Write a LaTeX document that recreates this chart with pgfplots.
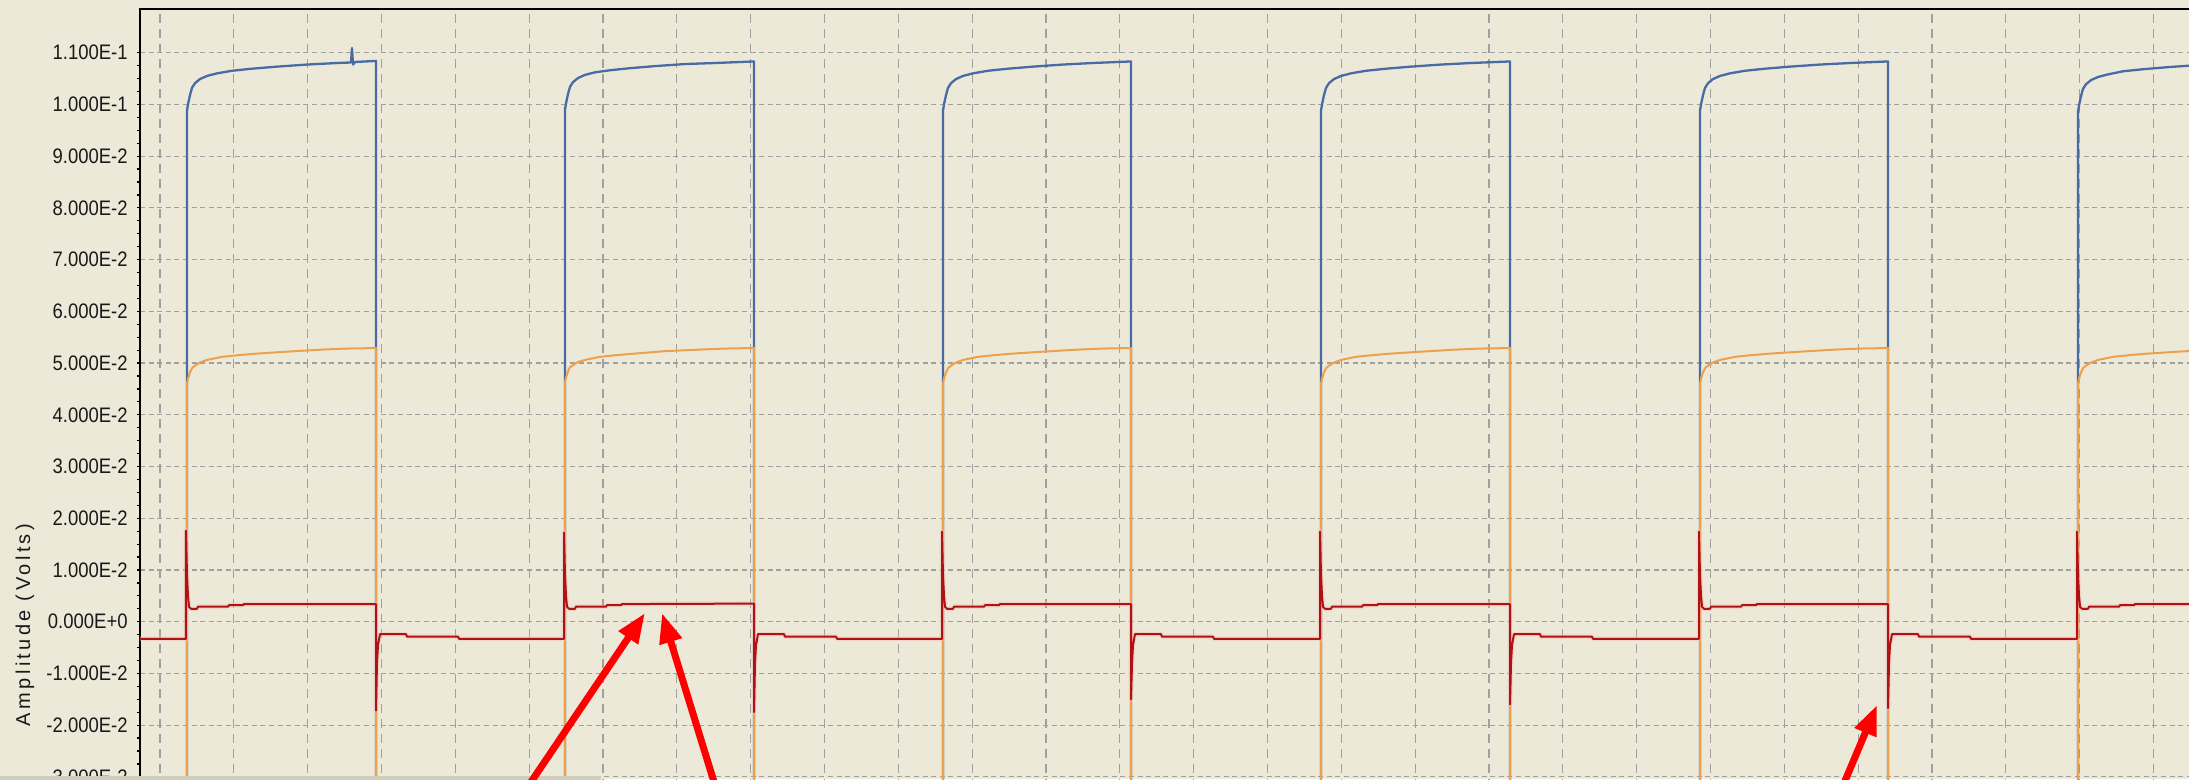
\documentclass[border=0pt]{standalone}
\usepackage{fontspec}
\setmainfont{Liberation Sans}
\newfontfamily\tickfont[FakeStretch=0.88]{Liberation Sans}
\newfontfamily\labfont[LetterSpace=17]{Liberation Sans}
\usepackage{pgfplots}
\pgfplotsset{compat=1.18}
\usetikzlibrary{arrows.meta,backgrounds}
\definecolor{bg}{RGB}{236,233,216}
\definecolor{gridc}{RGB}{160,160,160}
\definecolor{sigblue}{RGB}{72,106,165}
\definecolor{sigorange}{RGB}{238,160,75}
\definecolor{sigred}{RGB}{175,18,18}
\definecolor{glow}{RGB}{245,195,190}
\definecolor{arrowred}{RGB}{255,0,0}
\begin{document}
\begin{tikzpicture}
\begin{axis}[
  x=0.5pt, y=2586.5pt,
  xmin=140, xmax=2300, ymin=-0.035, ymax=0.11844,
  clip=false,
  axis line style={black, line width=1pt},
  xtick={160,233.8,307.7,381.5,455.3,529.2,603,676.8,750.6,824.5,898.3,972.1,1046,1119.8,1193.6,1267.5,1341.3,1415.1,1489,1562.8,1636.6,1710.5,1784.3,1858.1,1932,2005.8,2079.6,2153.5},
  xticklabels={},
  xtick style={draw=none},
  ytick={-0.03,-0.02,-0.01,0,0.01,0.02,0.03,0.04,0.05,0.06,0.07,0.08,0.09,0.1,0.11},
  yticklabels={\mbox{-3.000E-2},\mbox{-2.000E-2},\mbox{-1.000E-2},\mbox{0.000E+0},\mbox{1.000E-2},\mbox{2.000E-2},\mbox{3.000E-2},\mbox{4.000E-2},\mbox{5.000E-2},\mbox{6.000E-2},\mbox{7.000E-2},\mbox{8.000E-2},\mbox{9.000E-2},\mbox{1.000E-1},\mbox{1.100E-1}},
  ytick pos=left,
  tick align=outside,
  minor y tick num=3,
  major tick length=1.5pt,
  minor tick length=1.5pt,
  ytick style={black, line width=0.6pt},
  yticklabel style={font=\tickfont\fontsize{10.5pt}{12pt}\selectfont, text=black!90, anchor=east, inner sep=0pt, xshift=-4.5pt},
  xmajorgrids, ymajorgrids,
  x grid style={gridc, line width=0.6pt, dash pattern=on 4.5pt off 3pt},
  y grid style={gridc, line width=0.6pt, dash pattern=on 2.5pt off 1.8pt},
]
\coordinate (bl) at (axis cs:0,-0.03041);
\coordinate (tr) at (axis cs:2189,0.12018);
% blue
\addplot[sigblue, line width=1.15pt, line join=round] coordinates {
(140,-0.06)
(187,-0.06)(187,0.0988)(188,0.1000)(190,0.1018)(192,0.1032)(195,0.1041)(200,0.1049)(207,0.1055)(217,0.1060)(232,0.1065)(252,0.1069)(277,0.1073)(307,0.1077)(337,0.1080)(351,0.1081)(352,0.1109)(353,0.1077)(355,0.1082)(376,0.1084)(376,-0.06)
(565,-0.06)(565,0.0990)(566,0.1002)(568,0.1020)(570,0.1034)(573,0.1043)(578,0.1051)(585,0.1057)(595,0.1062)(610,0.1066)(630,0.1070)(655,0.1074)(685,0.1078)(715,0.1080)(754,0.1083)(754,-0.06)
(943,-0.06)(943,0.0988)(944,0.1000)(946,0.1018)(948,0.1032)(951,0.1041)(956,0.1049)(963,0.1055)(973,0.1060)(988,0.1065)(1008,0.1069)(1033,0.1073)(1063,0.1077)(1093,0.1080)(1131,0.1083)(1131,-0.06)
(1321,-0.06)(1321,0.0988)(1322,0.1000)(1324,0.1018)(1326,0.1032)(1329,0.1041)(1334,0.1049)(1341,0.1055)(1351,0.1060)(1366,0.1065)(1386,0.1069)(1411,0.1073)(1441,0.1077)(1471,0.1080)(1510,0.1083)(1510,-0.06)
(1700,-0.06)(1700,0.0988)(1701,0.1000)(1703,0.1018)(1705,0.1032)(1708,0.1041)(1713,0.1049)(1720,0.1055)(1730,0.1060)(1745,0.1065)(1765,0.1069)(1790,0.1073)(1820,0.1077)(1850,0.1080)(1888,0.1083)(1888,-0.06)
(2078,-0.06)(2078,0.0985)(2079,0.0998)(2081,0.1016)(2083,0.1030)(2086,0.1039)(2091,0.1047)(2098,0.1053)(2108,0.1058)(2123,0.1064)(2143,0.1068)(2168,0.1072)(2198,0.1076)
};
% orange
\addplot[sigorange, line width=1pt, line join=round] coordinates {
(140,-0.06)
(187,-0.06)(187,0.0460)(188,0.0470)(190,0.0482)(192,0.0490)(195,0.0495)(200,0.0501)(207,0.0506)(222,0.0512)(237,0.0515)(255,0.0518)(287,0.0522)(322,0.0526)(347,0.0528)(376,0.0529)(376,-0.06)
(565,-0.06)(565,0.0462)(566,0.0472)(568,0.0484)(570,0.0492)(573,0.0496)(578,0.0502)(585,0.0506)(600,0.0512)(615,0.0515)(633,0.0518)(665,0.0523)(700,0.0526)(725,0.0528)(754,0.0529)(754,-0.06)
(943,-0.06)(943,0.0460)(944,0.0470)(946,0.0482)(948,0.0490)(951,0.0495)(956,0.0501)(963,0.0506)(978,0.0512)(993,0.0515)(1011,0.0518)(1043,0.0522)(1078,0.0526)(1103,0.0528)(1131,0.0529)(1131,-0.06)
(1321,-0.06)(1321,0.0460)(1322,0.0470)(1324,0.0482)(1326,0.0490)(1329,0.0495)(1334,0.0501)(1341,0.0506)(1356,0.0512)(1371,0.0515)(1389,0.0518)(1421,0.0522)(1456,0.0526)(1481,0.0528)(1510,0.0529)(1510,-0.06)
(1700,-0.06)(1700,0.0460)(1701,0.0470)(1703,0.0482)(1705,0.0490)(1708,0.0495)(1713,0.0501)(1720,0.0506)(1735,0.0512)(1750,0.0515)(1768,0.0518)(1800,0.0522)(1835,0.0526)(1860,0.0528)(1888,0.0529)(1888,-0.06)
(2078,-0.06)(2078,0.0460)(2079,0.0470)(2081,0.0482)(2083,0.0490)(2086,0.0495)(2091,0.0501)(2098,0.0506)(2113,0.0512)(2128,0.0515)(2146,0.0518)(2178,0.0522)(2213,0.0526)
};
% red (glow, then trace)
\addplot[glow, line width=2.4pt, opacity=0.5, line join=round, forget plot] coordinates {
(140,-0.0033)(186,-0.0033)(186,0.0176)(187,0.0090)(188,0.0050)(189,0.0029)(191,0.0025)(197,0.0025)(198,0.0029)(228,0.0029)(229,0.0032)(243,0.0032)(244,0.0034)(376,0.0034)(376,-0.0172)(377,-0.0080)(378,-0.0045)(380,-0.0024)(406,-0.0024)(407,-0.0029)(458,-0.0029)(459,-0.0033)
(564,-0.0033)(564,0.0172)(565,0.0090)(566,0.0050)(567,0.0029)(569,0.0025)(575,0.0025)(576,0.0029)(606,0.0029)(607,0.0032)(621,0.0032)(622,0.0034)(754,0.0035)(754,-0.0175)(755,-0.0080)(756,-0.0045)(758,-0.0024)(784,-0.0024)(785,-0.0029)(836,-0.0029)(837,-0.0033)
(942,-0.0033)(942,0.0174)(943,0.0090)(944,0.0050)(945,0.0029)(947,0.0025)(953,0.0025)(954,0.0029)(984,0.0029)(985,0.0032)(999,0.0032)(1000,0.0034)(1131,0.0034)(1131,-0.0150)(1132,-0.0080)(1133,-0.0045)(1135,-0.0024)(1161,-0.0024)(1162,-0.0029)(1213,-0.0029)(1214,-0.0033)
(1320,-0.0033)(1320,0.0174)(1321,0.0090)(1322,0.0050)(1323,0.0029)(1325,0.0025)(1331,0.0025)(1332,0.0029)(1362,0.0029)(1363,0.0032)(1377,0.0032)(1378,0.0034)(1510,0.0034)(1510,-0.0160)(1511,-0.0080)(1512,-0.0045)(1514,-0.0024)(1540,-0.0024)(1541,-0.0029)(1592,-0.0029)(1593,-0.0033)
(1699,-0.0033)(1699,0.0174)(1700,0.0090)(1701,0.0050)(1702,0.0029)(1704,0.0025)(1710,0.0025)(1711,0.0029)(1741,0.0029)(1742,0.0032)(1756,0.0032)(1757,0.0034)(1888,0.0034)(1888,-0.0167)(1889,-0.0080)(1890,-0.0045)(1892,-0.0024)(1918,-0.0024)(1919,-0.0029)(1970,-0.0029)(1971,-0.0033)
(2077,-0.0033)(2077,0.0174)(2078,0.0090)(2079,0.0050)(2080,0.0029)(2082,0.0025)(2088,0.0025)(2089,0.0029)(2119,0.0029)(2120,0.0032)(2134,0.0032)(2135,0.0034)(2200,0.0034)
};
\addplot[sigred, line width=1pt, line join=round] coordinates {
(140,-0.0033)(186,-0.0033)(186,0.0176)(187,0.0090)(188,0.0050)(189,0.0029)(191,0.0025)(197,0.0025)(198,0.0029)(228,0.0029)(229,0.0032)(243,0.0032)(244,0.0034)(376,0.0034)(376,-0.0172)(377,-0.0080)(378,-0.0045)(380,-0.0024)(406,-0.0024)(407,-0.0029)(458,-0.0029)(459,-0.0033)
(564,-0.0033)(564,0.0172)(565,0.0090)(566,0.0050)(567,0.0029)(569,0.0025)(575,0.0025)(576,0.0029)(606,0.0029)(607,0.0032)(621,0.0032)(622,0.0034)(754,0.0035)(754,-0.0175)(755,-0.0080)(756,-0.0045)(758,-0.0024)(784,-0.0024)(785,-0.0029)(836,-0.0029)(837,-0.0033)
(942,-0.0033)(942,0.0174)(943,0.0090)(944,0.0050)(945,0.0029)(947,0.0025)(953,0.0025)(954,0.0029)(984,0.0029)(985,0.0032)(999,0.0032)(1000,0.0034)(1131,0.0034)(1131,-0.0150)(1132,-0.0080)(1133,-0.0045)(1135,-0.0024)(1161,-0.0024)(1162,-0.0029)(1213,-0.0029)(1214,-0.0033)
(1320,-0.0033)(1320,0.0174)(1321,0.0090)(1322,0.0050)(1323,0.0029)(1325,0.0025)(1331,0.0025)(1332,0.0029)(1362,0.0029)(1363,0.0032)(1377,0.0032)(1378,0.0034)(1510,0.0034)(1510,-0.0160)(1511,-0.0080)(1512,-0.0045)(1514,-0.0024)(1540,-0.0024)(1541,-0.0029)(1592,-0.0029)(1593,-0.0033)
(1699,-0.0033)(1699,0.0174)(1700,0.0090)(1701,0.0050)(1702,0.0029)(1704,0.0025)(1710,0.0025)(1711,0.0029)(1741,0.0029)(1742,0.0032)(1756,0.0032)(1757,0.0034)(1888,0.0034)(1888,-0.0167)(1889,-0.0080)(1890,-0.0045)(1892,-0.0024)(1918,-0.0024)(1919,-0.0029)(1970,-0.0029)(1971,-0.0033)
(2077,-0.0033)(2077,0.0174)(2078,0.0090)(2079,0.0050)(2080,0.0029)(2082,0.0025)(2088,0.0025)(2089,0.0029)(2119,0.0029)(2120,0.0032)(2134,0.0032)(2135,0.0034)(2200,0.0034)
};
% y label
\node[rotate=90, font=\labfont\fontsize{10pt}{11pt}\selectfont, text=black!90] at (axis cs:25,-0.00064) {Amplitude (Volts)};
% bottom strip
\fill[black!12!bg] (axis cs:0,-0.02983) rectangle (axis cs:601,-0.0310);
% annotation arrows
\draw[arrowred, line width=3.5pt, -{Triangle[length=15pt,width=11pt]}] (axis cs:519,-0.03443) -- (axis cs:645,0.00168);
\draw[arrowred, line width=3.5pt, -{Triangle[length=15pt,width=11pt]}] (axis cs:719.5,-0.03443) -- (axis cs:662,0.00168);
\draw[arrowred, line width=3.5pt, -{Triangle[length=15pt,width=11pt]}] (axis cs:1837,-0.03443) -- (axis cs:1877,-0.0161);
\end{axis}
\pgfresetboundingbox
\begin{scope}[on background layer]
\fill[bg] (bl) rectangle (tr);
\end{scope}
\useasboundingbox (bl) rectangle (tr);
\end{tikzpicture}
\end{document}
